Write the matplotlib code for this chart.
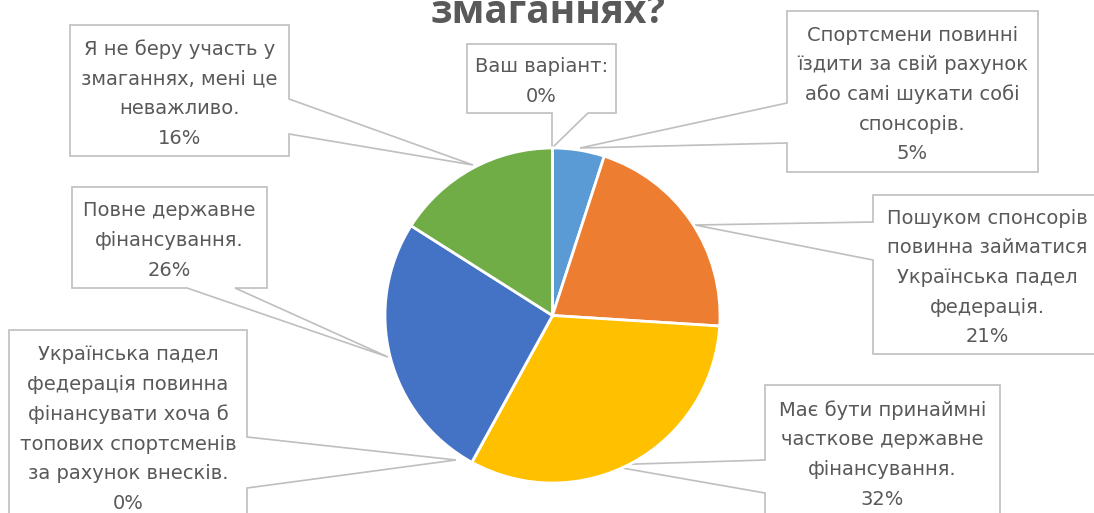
import matplotlib.pyplot as plt
from matplotlib.patches import Polygon

plt.rcParams['font.family'] = ['DejaVu Sans']

# дані опитування (за годинниковою стрілкою від 12 години)
answers = [
    'Спортсмени повинні\nїздити за свій рахунок\nабо самі шукати собі\nспонсорів.',
    'Пошуком спонсорів\nповинна займатися\nУкраїнська падел\nфедерація.',
    'Має бути принаймні\nчасткове державне\nфінансування.',
    'Українська падел\nфедерація повинна\nфінансувати хоча б\nтопових спортсменів\nза рахунок внесків.',
    'Повне державне\nфінансування.',
    'Я не беру участь у\nзмаганнях, мені це\nневажливо.',
    'Ваш варіант:',
]
shares = [5, 21, 32, 0, 26, 16, 0]
colors = ['#5B9BD5', '#ED7D31', '#FFC000', '#A5A5A5', '#4472C4', '#70AD47', '#264478']

W, H = 1094, 513
def Y(y):
    return H - y

fig = plt.figure(figsize=(W / 100, H / 100), dpi=100)
ax = fig.add_axes([0, 0, 1, 1])

ax.pie(shares, colors=colors, startangle=90, counterclock=False,
       center=(552.5, Y(315.5)), radius=167.5,
       wedgeprops=dict(edgecolor='white', linewidth=2, zorder=3))

# виноски: рамка (x0, y0, x1, y1), сторона з хвостиком, дві точки хвостика, вістря
callouts = [
    ((787, 11, 1038, 172), 'left', (103, 143), (580, 148)),
    ((873, 195, 1101, 354), 'left', (222, 260), (695, 225)),
    ((765, 385, 1000, 540), 'left', (460, 493), (605, 465)),
    ((9, 330, 247, 540), 'right', (437, 488), (456, 460)),
    ((72, 187, 267, 288), 'bottom', (187, 235), (388, 357)),
    ((70, 25, 289, 156), 'right', (99, 134), (473, 165)),
    ((467, 44, 616, 113), 'bottom', (552, 588), (552, 148)),
]
line_step = 29.7

for (box, side, (a, b), tip), text, share in zip(callouts, answers, shares):
    x0, y0, x1, y1 = box
    pts = [(x0, y0), (x1, y0)]
    if side == 'right':
        pts += [(x1, a), tip, (x1, b)]
    pts.append((x1, y1))
    if side == 'bottom':
        pts += [(b, y1), tip, (a, y1)]
    pts.append((x0, y1))
    if side == 'left':
        pts += [(x0, b), tip, (x0, a)]
    poly = Polygon([(x, Y(y)) for x, y in pts], closed=True,
                   facecolor='white', edgecolor='#BFBFBF', linewidth=1.2, zorder=1)
    ax.add_patch(poly)

    lines = text.split('\n') + ['%d%%' % share]
    n = len(lines)
    yc = (y0 + y1) / 2
    if y1 > H:
        yc = y0 + 22 + (n - 1) * line_step / 2
    xc = (x0 + x1) / 2
    for i, s in enumerate(lines):
        yy = yc + (i - (n - 1) / 2) * line_step + 3
        ax.text(xc, Y(yy), s, ha='center', va='center', fontsize=14,
                color='#595959', zorder=5)

# заголовок (верхня частина обрізана)
ax.text(548, Y(23), 'змаганнях?', ha='center', va='baseline', fontsize=28,
        fontweight='bold', family='Open Sans', color='#595959', zorder=5)

ax.set_xlim(0, W)
ax.set_ylim(0, H)
ax.set_aspect('equal')
ax.axis('off')

fig.savefig('out.png', dpi=100, facecolor='white')
